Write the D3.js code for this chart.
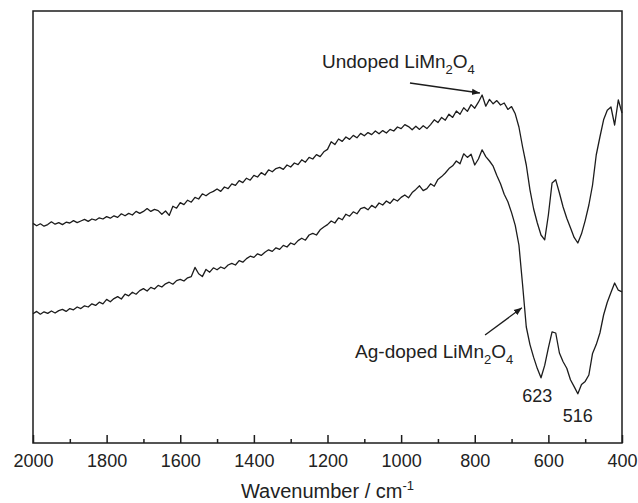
<!DOCTYPE html>
<html>
<head>
<meta charset="utf-8">
<script src="https://cdn.jsdelivr.net/npm/d3@7"></script>
<style>
  body { margin: 0; background: #fff; }
  svg { display: block; font-family: "Liberation Sans", Arial, sans-serif; }
</style>
</head>
<body>
<svg id="ir-chart"></svg>
<script>
// FTIR spectra, undoped vs Ag-doped LiMn2O4

// sampling grid, cm-1 (2000 -> 400, every 10)
const wavenumber = d3.range(2000, 399, -10);

// transmittance (a.u.)
const undoped = [
  54.9, 54.3, 54.8, 54.2, 54.6, 55.3, 54.7, 55.1, 54.6, 55.2,
  55.0, 55.6, 55.1, 55.5, 55.9, 55.4, 56.0, 55.7, 56.3, 56.0,
  56.6, 56.2, 56.8, 56.4, 57.3, 56.8, 57.4, 57.0, 57.9, 57.4,
  57.9, 58.6, 57.9, 58.4, 58.1, 57.2, 58.0, 56.9, 59.2, 58.7,
  60.1, 59.6, 60.7, 60.2, 61.4, 61.0, 62.3, 61.8, 62.5, 62.9,
  63.5, 62.9, 64.0, 63.6, 64.8, 64.4, 65.6, 65.1, 66.2, 65.7,
  66.9, 66.5, 67.6, 67.0, 68.3, 67.8, 68.6, 68.9, 68.4, 69.5,
  69.0, 70.0, 69.6, 70.8, 70.2, 71.4, 71.0, 72.1, 71.6, 72.8,
  73.4, 75.3, 74.6, 76.0, 75.4, 76.5, 75.9, 76.9, 76.3, 77.4,
  76.8, 77.6, 77.1, 78.0, 77.3, 78.1, 77.5, 78.4, 78.0, 79.0,
  78.6, 79.6, 79.1, 78.3, 79.2, 78.4, 79.3, 78.6, 79.6, 80.8,
  80.1, 81.4, 80.7, 82.2, 81.4, 83.0, 82.2, 83.8, 82.9, 84.6,
  83.7, 85.2, 87.0, 84.2, 85.9, 84.8, 85.6, 84.5, 85.0, 83.4,
  84.1, 82.3, 79.0, 74.0, 69.5, 63.3, 58.5, 55.0, 52.0, 50.8,
  57.0, 65.0, 65.8, 62.5, 59.0, 56.2, 53.8, 51.4, 50.0, 52.3,
  55.6, 59.5, 64.5, 72.0, 76.5, 80.8, 83.2, 84.0, 79.5, 85.8,
  82.5
];

const agDoped = [
  32.3, 32.9, 32.2, 32.8, 32.4, 33.0, 32.5, 33.1, 33.4, 32.9,
  33.6, 33.3, 34.0, 33.6, 34.3, 34.0, 34.8, 34.4, 35.2, 34.8,
  35.9, 35.3, 36.1, 36.6, 36.0, 37.2, 36.8, 37.7, 37.2, 38.1,
  38.6, 38.0, 38.9, 38.5, 39.4, 39.0, 39.8, 40.2, 39.7, 40.6,
  40.9, 40.5, 41.3, 41.6, 43.9, 42.3, 41.6, 43.4, 42.7, 43.8,
  43.3, 44.0, 43.6, 44.5, 44.9, 44.5, 45.6, 45.2, 46.1, 46.7,
  46.4, 47.3, 46.9, 47.7, 48.3, 47.9, 48.8, 48.4, 49.4, 49.0,
  50.0, 49.6, 50.6, 51.2, 50.7, 52.0, 52.4, 52.0, 53.3, 54.0,
  54.6, 55.5, 55.0, 56.3, 55.8, 57.2, 56.7, 57.8, 57.3, 58.6,
  58.9, 58.3, 59.4, 58.8, 60.0, 59.5, 60.5, 59.9, 61.0, 60.5,
  61.4, 62.0, 61.3, 62.6, 63.4, 64.3, 63.1, 63.6, 64.8, 64.2,
  65.9, 66.6, 67.5, 68.6, 69.3, 70.5, 69.8, 72.3, 71.4, 72.2,
  69.5, 71.0, 73.3, 71.6, 70.5, 69.2, 66.9, 64.8, 62.2, 60.3,
  57.6, 54.4, 49.5, 39.5, 29.0, 24.6, 21.4, 18.6, 16.3, 19.4,
  23.8, 27.8, 27.5, 22.5, 20.3, 18.7, 15.8, 14.1, 12.3, 14.6,
  15.4, 17.0, 22.4, 24.6, 27.5, 32.0, 35.2, 37.6, 40.0, 38.2,
  37.8
];

const majorTicks = [2000, 1800, 1600, 1400, 1200, 1000, 800, 600, 400];
const minorTicks = [1900, 1700, 1500, 1300, 1100, 900, 700, 500];

const margin = { top: 11, right: 16, bottom: 60, left: 33 };
const width = 638 - margin.left - margin.right;
const height = 503 - margin.top - margin.bottom;
const ink = "#1c1c1c";

const svg = d3.select("#ir-chart")
  .attr("width", 638)
  .attr("height", 503)
  .append("g")
  .attr("transform", `translate(${margin.left},${margin.top})`);

const x = d3.scaleLinear().domain([2000, 400]).range([0, width]);
const y = d3.scaleLinear().domain([0, 108]).range([height, 0]);

const line = d3.line()
  .x((d, i) => x(wavenumber[i]))
  .y(d => y(d));

// spectra
[undoped, agDoped].forEach(series => {
  svg.append("path")
    .datum(series)
    .attr("fill", "none")
    .attr("stroke", ink)
    .attr("stroke-width", 1.3)
    .attr("stroke-linejoin", "round")
    .attr("d", line);
});

// x axis, ticks pointing inward
const xAxis = svg.append("g")
  .attr("transform", `translate(0,${height})`)
  .call(d3.axisBottom(x).tickValues(majorTicks).tickSize(-8).tickPadding(11).tickFormat(d3.format("d")));
xAxis.select(".domain").remove();
xAxis.selectAll("line").attr("stroke", ink).attr("stroke-width", 1.5);
xAxis.selectAll("text")
  .attr("fill", "#222")
  .style("font-size", "18px")
  .style("font-family", "'Liberation Sans', Arial, sans-serif");

const xMinor = svg.append("g")
  .attr("transform", `translate(0,${height})`)
  .call(d3.axisBottom(x).tickValues(minorTicks).tickSize(-4).tickFormat(""));
xMinor.select(".domain").remove();
xMinor.selectAll("line").attr("stroke", ink).attr("stroke-width", 1.5);

// frame
svg.append("rect")
  .attr("x", 0)
  .attr("y", 0)
  .attr("width", width)
  .attr("height", height)
  .attr("fill", "none")
  .attr("stroke", ink)
  .attr("stroke-width", 1.5);

// axis title
const title = svg.append("text")
  .attr("x", width / 2)
  .attr("y", height + 55)
  .attr("text-anchor", "middle")
  .attr("fill", "#222")
  .style("font-size", "20px");
title.append("tspan").text("Wavenumber / cm");
title.append("tspan").attr("dy", -8).style("font-size", "13px").text("-1");

// arrowhead
svg.append("defs").append("marker")
  .attr("id", "arrow")
  .attr("viewBox", "0 0 10 10")
  .attr("refX", 10)
  .attr("refY", 5)
  .attr("markerWidth", 8)
  .attr("markerHeight", 8)
  .attr("markerUnits", "userSpaceOnUse")
  .attr("orient", "auto")
  .append("path")
  .attr("d", "M0,1 L10,5 L0,9 Z")
  .attr("fill", ink);

// sample labels with arrows
const labels = [
  { wn: 1215, v: 93.8, from: [976, 90], to: [786, 87.5], sub: ["Undoped LiMn", "2", "O", "4"] },
  { wn: 1125, v: 21.3, from: [772, 27], to: [672, 33.8], sub: ["Ag-doped LiMn", "2", "O", "4"] }
];

labels.forEach(l => {
  const t = svg.append("text")
    .attr("x", x(l.wn))
    .attr("y", y(l.v))
    .attr("fill", "#222")
    .style("font-size", "19px");
  t.append("tspan").text(l.sub[0]);
  t.append("tspan").attr("dy", 6).style("font-size", "13px").text(l.sub[1]);
  t.append("tspan").attr("dy", -6).text(l.sub[2]);
  t.append("tspan").attr("dy", 6).style("font-size", "13px").text(l.sub[3]);

  svg.append("line")
    .attr("x1", x(l.from[0]))
    .attr("y1", y(l.from[1]))
    .attr("x2", x(l.to[0]))
    .attr("y2", y(l.to[1]))
    .attr("stroke", ink)
    .attr("stroke-width", 1.3)
    .attr("marker-end", "url(#arrow)");
});

// band positions
const bands = [
  { wn: 630, v: 10.3, label: "623" },
  { wn: 520, v: 5.3, label: "516" }
];

svg.selectAll(".band-label")
  .data(bands)
  .enter()
  .append("text")
  .attr("class", "band-label")
  .attr("x", d => x(d.wn))
  .attr("y", d => y(d.v))
  .attr("text-anchor", "middle")
  .attr("fill", "#222")
  .style("font-size", "18px")
  .text(d => d.label);
</script>
</body>
</html>
